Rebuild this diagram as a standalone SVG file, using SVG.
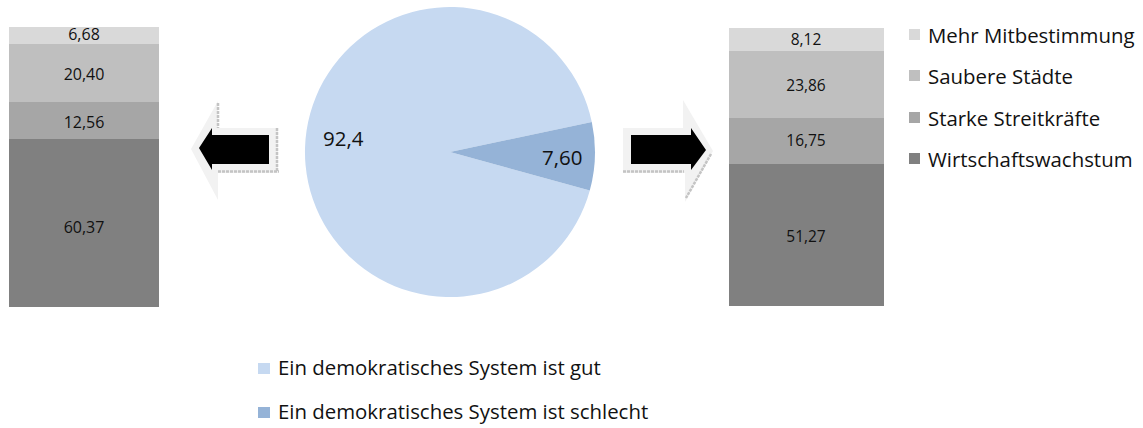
<svg xmlns="http://www.w3.org/2000/svg" width="1143" height="428" viewBox="0 0 1143 428">
<style>
text{font-family:"Open Sans","Liberation Sans",sans-serif;fill:#111}
.bl{font-size:16px;text-anchor:middle}
.br{font-size:15.5px;text-anchor:middle}
.pl{font-size:20.5px}
.lg{font-size:20.4px}
.c1{fill:#d9d9d9}.c2{fill:#bfbfbf}.c3{fill:#a6a6a6}.c4{fill:#808080}
.pg{fill:#c6d9f1}.pb{fill:#95b3d7}
.ao{fill:#f2f2f2}
.ad{stroke:#c4c4c4;stroke-width:2.5;stroke-dasharray:3 1;fill:none}
</style>
<rect width="1143" height="428" fill="#fff"/>
<g id="bar-left">
<rect class="c1" x="9" y="27" width="150" height="17"/>
<rect class="c2" x="9" y="44" width="150" height="58"/>
<rect class="c3" x="9" y="102" width="150" height="37"/>
<rect class="c4" x="9" y="139" width="150" height="168"/>
<text class="bl" x="84" y="40">6,68</text>
<text class="bl" x="84" y="80">20,40</text>
<text class="bl" x="84" y="128">12,56</text>
<text class="bl" x="84" y="233">60,37</text>
</g>
<g id="pie">
<path class="pg" d="M450,152 L589.8,190.4 A145,145 0 1 1 591.8,121.9 Z"/>
<path class="pb" d="M450,152 L591.8,121.9 A145,145 0 0 1 589.8,190.4 Z"/>
<text class="pl" x="323" y="146">92,4</text>
<text class="pl" x="542" y="165">7,60</text>
</g>
<g id="bar-right">
<rect class="c1" x="729" y="28" width="155" height="23"/>
<rect class="c2" x="729" y="51" width="155" height="67"/>
<rect class="c3" x="729" y="118" width="155" height="46"/>
<rect class="c4" x="729" y="164" width="155" height="142"/>
<text class="br" x="806" y="45">8,12</text>
<text class="br" x="806" y="91">23,86</text>
<text class="br" x="806" y="146">16,75</text>
<text class="br" x="806" y="242">51,27</text>
</g>
<g id="arrow-left">
<polygon class="ao" points="191,149 218,101 218,128 278,128 278,173 218,173 218,200"/>
<line class="ad" x1="218" y1="103" x2="218" y2="128"/>
<line class="ad" x1="218" y1="171.5" x2="279" y2="171.5"/>
<line class="ad" x1="277" y1="128" x2="277" y2="172"/>
<polygon fill="#000" points="199,148 212,128 212,135 269,135 269,164 212,164 212,170"/>
</g>
<g id="arrow-right">
<polygon class="ao" points="623,128 683,128 683,100 713,151 685,202 685,173 623,173"/>
<line class="ad" x1="623" y1="171.5" x2="684" y2="171.5"/>
<line class="ad" x1="711" y1="154" x2="686" y2="198"/>
<polygon fill="#000" points="631,135 691,135 691,128 706,150 691,170 691,164 631,164"/>
</g>
<g id="legend-right">
<rect class="c1" x="909" y="29" width="11" height="11"/>
<text class="lg" x="928" y="43">Mehr Mitbestimmung</text>
<rect class="c2" x="909" y="70" width="11" height="11"/>
<text class="lg" x="928" y="84">Saubere Städte</text>
<rect class="c3" x="909" y="112" width="11" height="11"/>
<text class="lg" x="928" y="126">Starke Streitkräfte</text>
<rect class="c4" x="909" y="153" width="11" height="11"/>
<text class="lg" x="928" y="167">Wirtschaftswachstum</text>
</g>
<g id="legend-bottom">
<rect class="pg" x="258" y="363" width="12" height="11"/>
<text class="lg" x="278" y="375">Ein demokratisches System ist gut</text>
<rect class="pb" x="258" y="407" width="12" height="11"/>
<text class="lg" x="278" y="419">Ein demokratisches System ist schlecht</text>
</g>
<g id="connectors"></g>
</svg>
